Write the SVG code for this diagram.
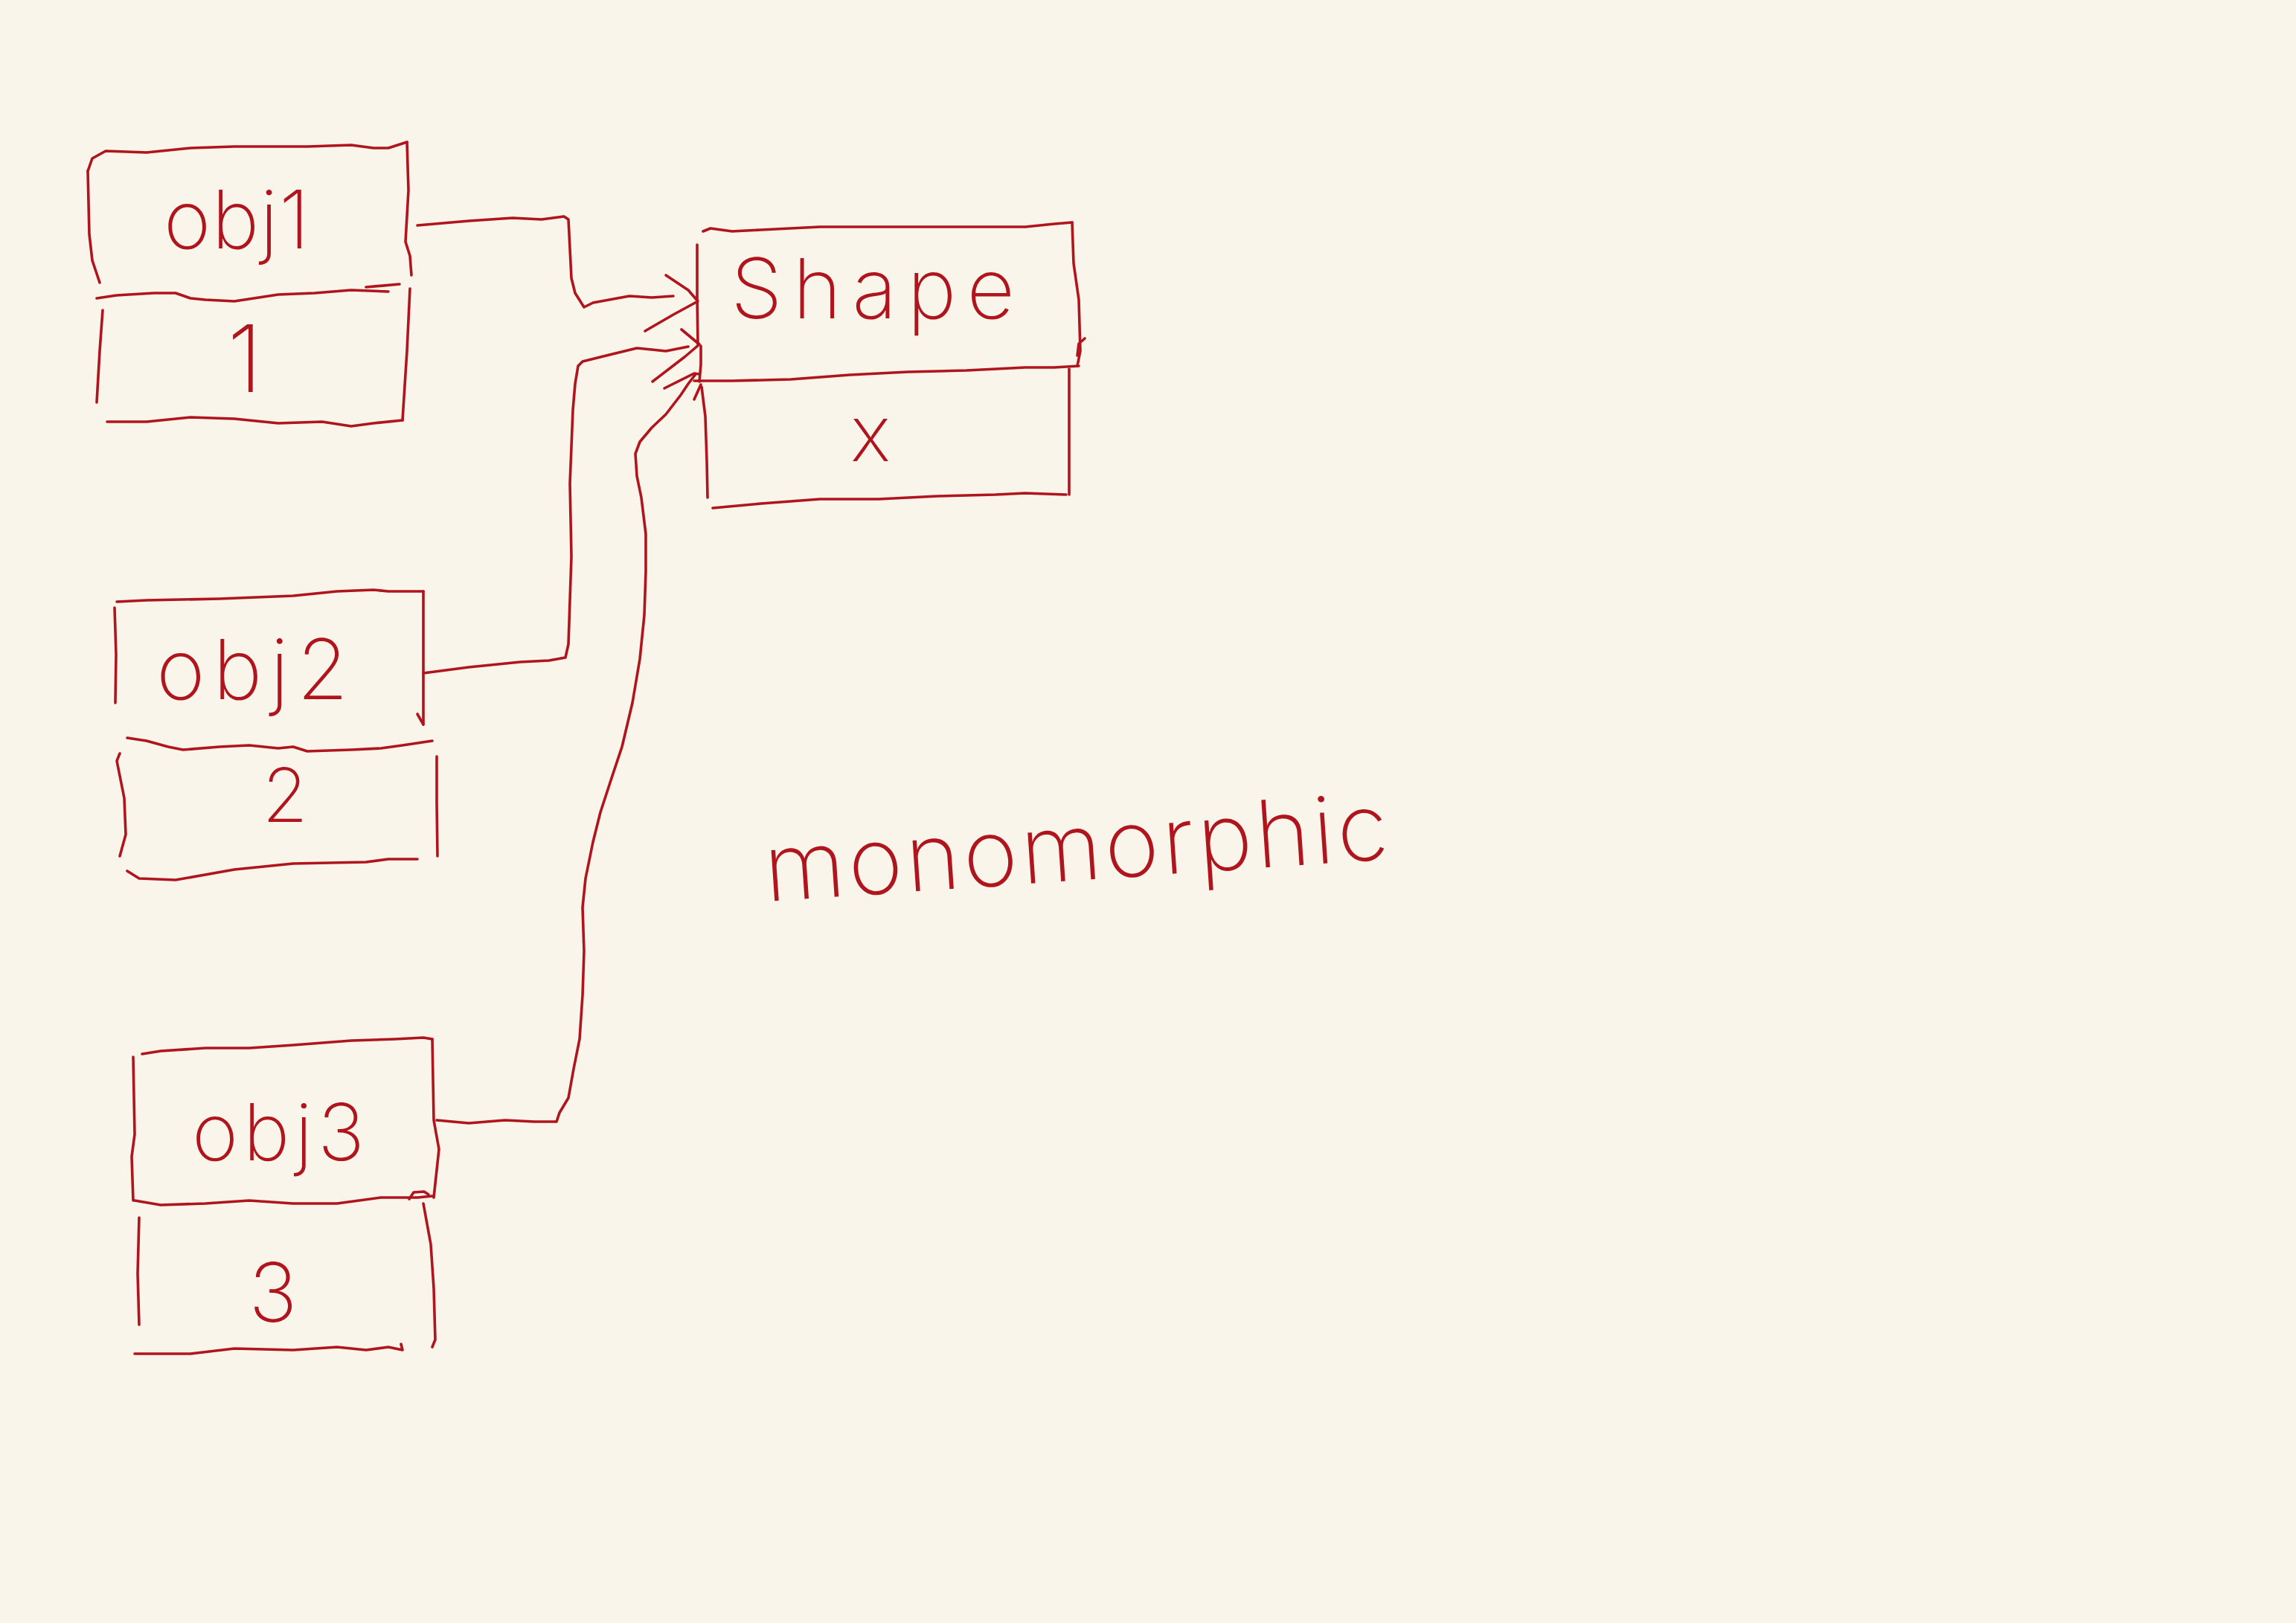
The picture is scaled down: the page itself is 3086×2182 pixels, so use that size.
<svg xmlns="http://www.w3.org/2000/svg" width="3086" height="2182" viewBox="0 0 3086 2182">
<style>
.ln{fill:none;stroke:#b0141c;stroke-width:3.6;stroke-linecap:round;stroke-linejoin:round}
.hw{font-family:Inter,"Liberation Sans",sans-serif;font-weight:200;fill:#b0141c}
</style>
<rect width="3086" height="2182" fill="#f9f5ea"/>

<g id="obj1">
  <polyline class="ln" points="118,230 124,213 142,203 197,205 256,199 315,197 413,197 472,195 502,199 522,199 547,191"/>
  <polyline class="ln" points="118,230 120,315 124,350 134,380"/>
  <polyline class="ln" points="547,191 549,256 545,325 551,344 553,370"/>
  <polyline class="ln" points="130,401 157,397 207,394 236,394 256,401 276,403 315,405 374,396 423,394 472,390 522,392"/>
  <polyline class="ln" points="492,386 537,382"/>
  <polyline class="ln" points="138,417 134,472 130,541"/>
  <polyline class="ln" points="551,388 547,472 541,565"/>
  <polyline class="ln" points="144,567 197,567 256,561 315,563 374,569 433,567 472,573 502,569 541,565"/>
  <text class="hw" x="220" y="334" font-size="108" textLength="196" lengthAdjust="spacing">obj1</text>
  <text class="hw" x="329" y="527" font-size="125" text-anchor="middle">1</text>
</g>

<g id="shape">
  <polyline class="ln" points="945,311 955,307 984,311 1023,309 1102,305 1220,305 1338,305 1378,305 1417,301 1441,299"/>
  <polyline class="ln" points="937,329 937,400 938,463"/>
  <polyline class="ln" points="942,465 942,490 940,513"/>
  <polyline class="ln" points="1441,299 1443,354 1450,403 1452,472 1448,492"/>
  <polyline class="ln" points="1458,455 1450,462 1448,478"/>
  <polyline class="ln" points="933,512 984,512 1063,510 1142,504 1220,500 1299,498 1378,494 1417,494 1450,492"/>
  <polyline class="ln" points="943,520 948,560 950,620 951,669"/>
  <polyline class="ln" points="1437,496 1437,580 1437,665"/>
  <polyline class="ln" points="958,683 1023,677 1102,671 1181,671 1260,667 1338,665 1378,663 1433,665"/>
  <text class="hw" x="982" y="428" font-size="112" textLength="382" lengthAdjust="spacing">Shape</text>
  <text class="hw" x="1170" y="620" font-size="105" text-anchor="middle">x</text>
</g>

<g id="obj2">
  <polyline class="ln" points="157,809 197,807 295,805 394,801 453,795 502,793 522,795 569,795"/>
  <polyline class="ln" points="154,817 156,880 155,945"/>
  <polyline class="ln" points="569,795 569,880 569,974"/>
  <polyline class="ln" points="561,960 569,974"/>
  <polyline class="ln" points="171,992 197,996 226,1004 246,1008 295,1004 335,1002 374,1006 394,1004 413,1010 472,1008 512,1006 541,1002 581,996"/>
  <polyline class="ln" points="161,1013 157,1023 167,1073 169,1122 161,1151"/>
  <polyline class="ln" points="587,1017 587,1080 588,1151"/>
  <polyline class="ln" points="171,1171 187,1181 236,1183 315,1169 394,1161 492,1159 522,1155 561,1155"/>
  <text class="hw" x="210" y="940" font-size="112" textLength="258" lengthAdjust="spacing">obj2</text>
  <text class="hw" x="383" y="1105" font-size="100" text-anchor="middle">2</text>
</g>

<g id="obj3">
  <polyline class="ln" points="191,1417 216,1413 276,1409 335,1409 394,1405 472,1399 531,1397 569,1395 581,1397"/>
  <polyline class="ln" points="179,1421 181,1525 177,1555 179,1614"/>
  <polyline class="ln" points="581,1397 583,1506 590,1545 583,1610"/>
  <polyline class="ln" points="181,1614 216,1620 276,1618 335,1614 394,1618 453,1618 512,1610 561,1610 581,1608"/>
  <polyline class="ln" points="550,1612 556,1603 570,1602 576,1606"/>
  <polyline class="ln" points="187,1637 185,1712 187,1781"/>
  <polyline class="ln" points="569,1618 579,1673 583,1732 585,1801 581,1811"/>
  <polyline class="ln" points="181,1820 256,1820 315,1813 394,1815 453,1811 492,1815 522,1811 541,1815 539,1807"/>
  <text class="hw" x="258" y="1560" font-size="106" textLength="232" lengthAdjust="spacing">obj3</text>
  <text class="hw" x="367" y="1777" font-size="110" text-anchor="middle">3</text>
</g>

<g id="label-monomorphic">
  <text class="hw" x="1030" y="1212" font-size="125" textLength="840" lengthAdjust="spacing" transform="rotate(-3.9 1030 1212)">monomorphic</text>
</g>

<g id="connectors">
  <polyline class="ln" points="561,303 630,297 689,293 728,295 758,291 764,295 768,374 773,394 785,413 797,407 846,398 876,400 905,398"/>
  <polyline class="ln" points="895,370 925,390 938,405 905,423 867,445"/>
  <polyline class="ln" points="569,905 630,897 699,890 738,888 760,884 764,866 768,748 766,650 770,551 773,516 777,492 783,486 807,480 856,468 876,470 895,472 925,466"/>
  <polyline class="ln" points="916,443 940,463 920,480 877,513"/>
  <polyline class="ln" points="587,1506 630,1510 679,1506 718,1508 748,1508 752,1496 764,1476 771,1437 779,1397 783,1338 785,1279 783,1220 787,1181 797,1132 807,1092 823,1043 836,1004 850,945 860,886 866,827 868,768 868,718 862,669 856,640 854,610 860,594 876,575 895,557 915,531 925,516 935,503"/>
  <polyline class="ln" points="893,522 933,502 940,503"/>
  <polyline class="ln" points="933,537 942,517"/>
</g>
</svg>
